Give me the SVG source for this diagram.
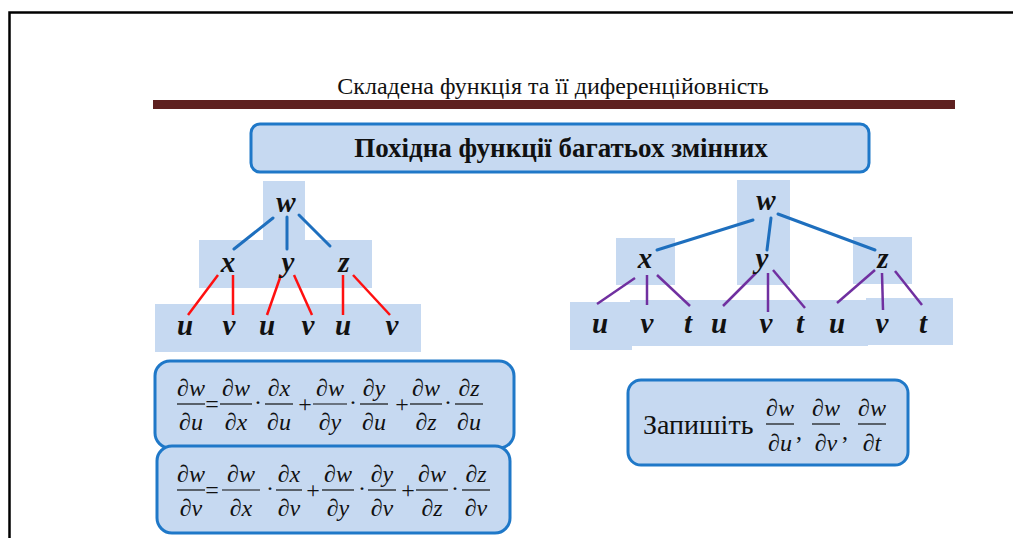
<svg xmlns="http://www.w3.org/2000/svg" width="1013" height="538" viewBox="0 0 1013 538">
<style>
.bg{fill:#c6d9f1}
.box{fill:#c6d9f1;stroke:#1f78c8;stroke-width:3}
.tv{font-family:"Liberation Serif",serif;font-weight:bold;font-style:italic;font-size:29px;text-anchor:middle;fill:#111}
.bl{stroke:#1e6fbe;stroke-width:3;stroke-linecap:round}
.rd{stroke:#ff1010;stroke-width:2.5}
.pu{stroke:#7030a0;stroke-width:2.5}
.m{font-family:"Liberation Serif",serif;font-size:24px;text-anchor:middle;fill:#111}
.i{font-style:italic}
.fb{stroke:#111;stroke-width:1.2}
</style>
<rect width="1013" height="538" fill="#fff"/>
<path d="M9.5,538 V12.5 H1013" fill="none" stroke="#000" stroke-width="2.5"/>
<g id="title">
<text x="553" y="94" font-family="'Liberation Serif',serif" font-size="24" text-anchor="middle" fill="#111">Складена функція та її диференційовність</text>
<rect x="153" y="100" width="802" height="9" fill="#5e2120"/>
</g>
<g id="header">
<rect class="box" x="251" y="124" width="618" height="48" rx="9"/>
<text x="561" y="157" font-family="'Liberation Serif',serif" font-size="27" font-weight="bold" text-anchor="middle" fill="#111">Похідна функції багатьох змінних</text>
</g>
<g id="left-tree-bg">
<rect class="bg" x="263" y="181" width="42" height="62"/>
<rect class="bg" x="199" y="240" width="173" height="48"/>
<rect class="bg" x="155" y="304" width="266" height="48"/>
</g>
<g id="right-tree-bg">
<rect class="bg" x="737" y="180" width="53" height="105"/>
<rect class="bg" x="616" y="238" width="59" height="47"/>
<rect class="bg" x="853" y="237" width="59" height="47"/>
<rect class="bg" x="570" y="302" width="62" height="48"/>
<rect class="bg" x="630" y="300" width="120" height="46"/>
<rect class="bg" x="748" y="300" width="120" height="46"/>
<rect class="bg" x="866" y="298" width="87" height="47"/>
</g>
<g id="connectors">
<line class="bl" x1="273" y1="218" x2="234" y2="249"/>
<line class="bl" x1="287" y1="217" x2="287" y2="249"/>
<line class="bl" x1="299" y1="215" x2="330" y2="246"/>
<line class="rd" x1="218" y1="275" x2="188" y2="315"/>
<line class="rd" x1="233" y1="275" x2="233" y2="315"/>
<line class="rd" x1="281" y1="275" x2="267" y2="315"/>
<line class="rd" x1="294" y1="275" x2="312" y2="315"/>
<line class="rd" x1="343" y1="275" x2="343" y2="315"/>
<line class="rd" x1="353" y1="275" x2="390" y2="315"/>
<line class="bl" x1="753" y1="220" x2="657" y2="250"/>
<line class="bl" x1="771" y1="218" x2="767" y2="250"/>
<line class="bl" x1="778" y1="214" x2="875" y2="250"/>
<line class="pu" x1="635" y1="278" x2="597" y2="304"/>
<line class="pu" x1="647" y1="275" x2="647" y2="305"/>
<line class="pu" x1="657" y1="275" x2="690" y2="306"/>
<line class="pu" x1="756" y1="273" x2="723" y2="306"/>
<line class="pu" x1="768" y1="273" x2="768" y2="312"/>
<line class="pu" x1="773" y1="270" x2="805" y2="308"/>
<line class="pu" x1="875" y1="270" x2="837" y2="303"/>
<line class="pu" x1="882" y1="273" x2="883" y2="310"/>
<line class="pu" x1="895" y1="271" x2="922" y2="305"/>
</g>
<g id="left-w"><text class="tv" x="286" y="212">w</text></g>
<g id="left-x"><text class="tv" x="228" y="272">x</text></g>
<g id="left-y"><text class="tv" x="288" y="272">y</text></g>
<g id="left-z"><text class="tv" x="344" y="272">z</text></g>
<g id="left-leaves">
<text class="tv" x="185" y="335">u</text><text class="tv" x="229" y="335">v</text>
<text class="tv" x="267" y="335">u</text><text class="tv" x="308" y="335">v</text>
<text class="tv" x="343" y="335">u</text><text class="tv" x="392" y="335">v</text>
</g>
<g id="right-w"><text class="tv" x="766" y="210">w</text></g>
<g id="right-x"><text class="tv" x="645" y="268">x</text></g>
<g id="right-y"><text class="tv" x="762" y="268">y</text></g>
<g id="right-z"><text class="tv" x="883" y="268">z</text></g>
<g id="right-leaves">
<text class="tv" x="600" y="333">u</text><text class="tv" x="647" y="333">v</text><text class="tv" x="688" y="333">t</text>
<text class="tv" x="719" y="333">u</text><text class="tv" x="766" y="333">v</text><text class="tv" x="800" y="333">t</text>
<text class="tv" x="837" y="333">u</text><text class="tv" x="882" y="333">v</text><text class="tv" x="923" y="333">t</text>
</g>
<g id="formula-u">
<rect class="box" x="155" y="361" width="359" height="87" rx="15"/>
<g class="m">
<text x="191" y="396">∂<tspan class="i">w</tspan></text><line class="fb" x1="177" y1="404" x2="205" y2="404"/><text x="191" y="430">∂<tspan class="i">u</tspan></text>
<text x="212" y="412">=</text>
<text x="236" y="396">∂<tspan class="i">w</tspan></text><line class="fb" x1="220" y1="404" x2="252" y2="404"/><text x="236" y="430">∂<tspan class="i">x</tspan></text>
<text x="258" y="410">·</text>
<text x="279" y="396">∂<tspan class="i">x</tspan></text><line class="fb" x1="265" y1="404" x2="293" y2="404"/><text x="279" y="430">∂<tspan class="i">u</tspan></text>
<text x="305" y="412">+</text>
<text x="330" y="396">∂<tspan class="i">w</tspan></text><line class="fb" x1="313" y1="404" x2="347" y2="404"/><text x="330" y="430">∂<tspan class="i">y</tspan></text>
<text x="353" y="410">·</text>
<text x="374" y="396">∂<tspan class="i">y</tspan></text><line class="fb" x1="360" y1="404" x2="388" y2="404"/><text x="374" y="430">∂<tspan class="i">u</tspan></text>
<text x="402" y="412">+</text>
<text x="426" y="396">∂<tspan class="i">w</tspan></text><line class="fb" x1="410" y1="404" x2="442" y2="404"/><text x="426" y="430">∂<tspan class="i">z</tspan></text>
<text x="448" y="410">·</text>
<text x="469" y="396">∂<tspan class="i">z</tspan></text><line class="fb" x1="455" y1="404" x2="483" y2="404"/><text x="469" y="430">∂<tspan class="i">u</tspan></text>
</g>
</g>
<g id="formula-v">
<rect class="box" x="157" y="446" width="353" height="87" rx="15"/>
<g class="m">
<text x="191" y="482">∂<tspan class="i">w</tspan></text><line class="fb" x1="177" y1="490" x2="205" y2="490"/><text x="191" y="516">∂<tspan class="i">v</tspan></text>
<text x="212" y="498">=</text>
<text x="241" y="482">∂<tspan class="i">w</tspan></text><line class="fb" x1="222" y1="490" x2="260" y2="490"/><text x="241" y="516">∂<tspan class="i">x</tspan></text>
<text x="270" y="496">·</text>
<text x="289" y="482">∂<tspan class="i">x</tspan></text><line class="fb" x1="276" y1="490" x2="302" y2="490"/><text x="289" y="516">∂<tspan class="i">v</tspan></text>
<text x="313" y="498">+</text>
<text x="338" y="482">∂<tspan class="i">w</tspan></text><line class="fb" x1="322" y1="490" x2="354" y2="490"/><text x="338" y="516">∂<tspan class="i">y</tspan></text>
<text x="362" y="496">·</text>
<text x="382" y="482">∂<tspan class="i">y</tspan></text><line class="fb" x1="368" y1="490" x2="396" y2="490"/><text x="382" y="516">∂<tspan class="i">v</tspan></text>
<text x="408" y="498">+</text>
<text x="432" y="482">∂<tspan class="i">w</tspan></text><line class="fb" x1="416" y1="490" x2="448" y2="490"/><text x="432" y="516">∂<tspan class="i">z</tspan></text>
<text x="455" y="496">·</text>
<text x="476" y="482">∂<tspan class="i">z</tspan></text><line class="fb" x1="462" y1="490" x2="490" y2="490"/><text x="476" y="516">∂<tspan class="i">v</tspan></text>
</g>
</g>
<g id="task">
<rect class="box" x="628" y="380" width="280" height="85" rx="13"/>
<text x="643" y="434" font-family="'Liberation Serif',serif" font-size="28" fill="#111">Запишіть</text>
<g class="m">
<text x="780" y="416">∂<tspan class="i">w</tspan></text><line class="fb" x1="766" y1="424" x2="794" y2="424"/><text x="780" y="451">∂<tspan class="i">u</tspan></text>
<text x="799" y="439">,</text>
<text x="826" y="416">∂<tspan class="i">w</tspan></text><line class="fb" x1="812" y1="424" x2="840" y2="424"/><text x="826" y="451">∂<tspan class="i">v</tspan></text>
<text x="845" y="439">,</text>
<text x="872" y="416">∂<tspan class="i">w</tspan></text><line class="fb" x1="858" y1="424" x2="886" y2="424"/><text x="872" y="451">∂<tspan class="i">t</tspan></text>
</g>
</g>
</svg>
